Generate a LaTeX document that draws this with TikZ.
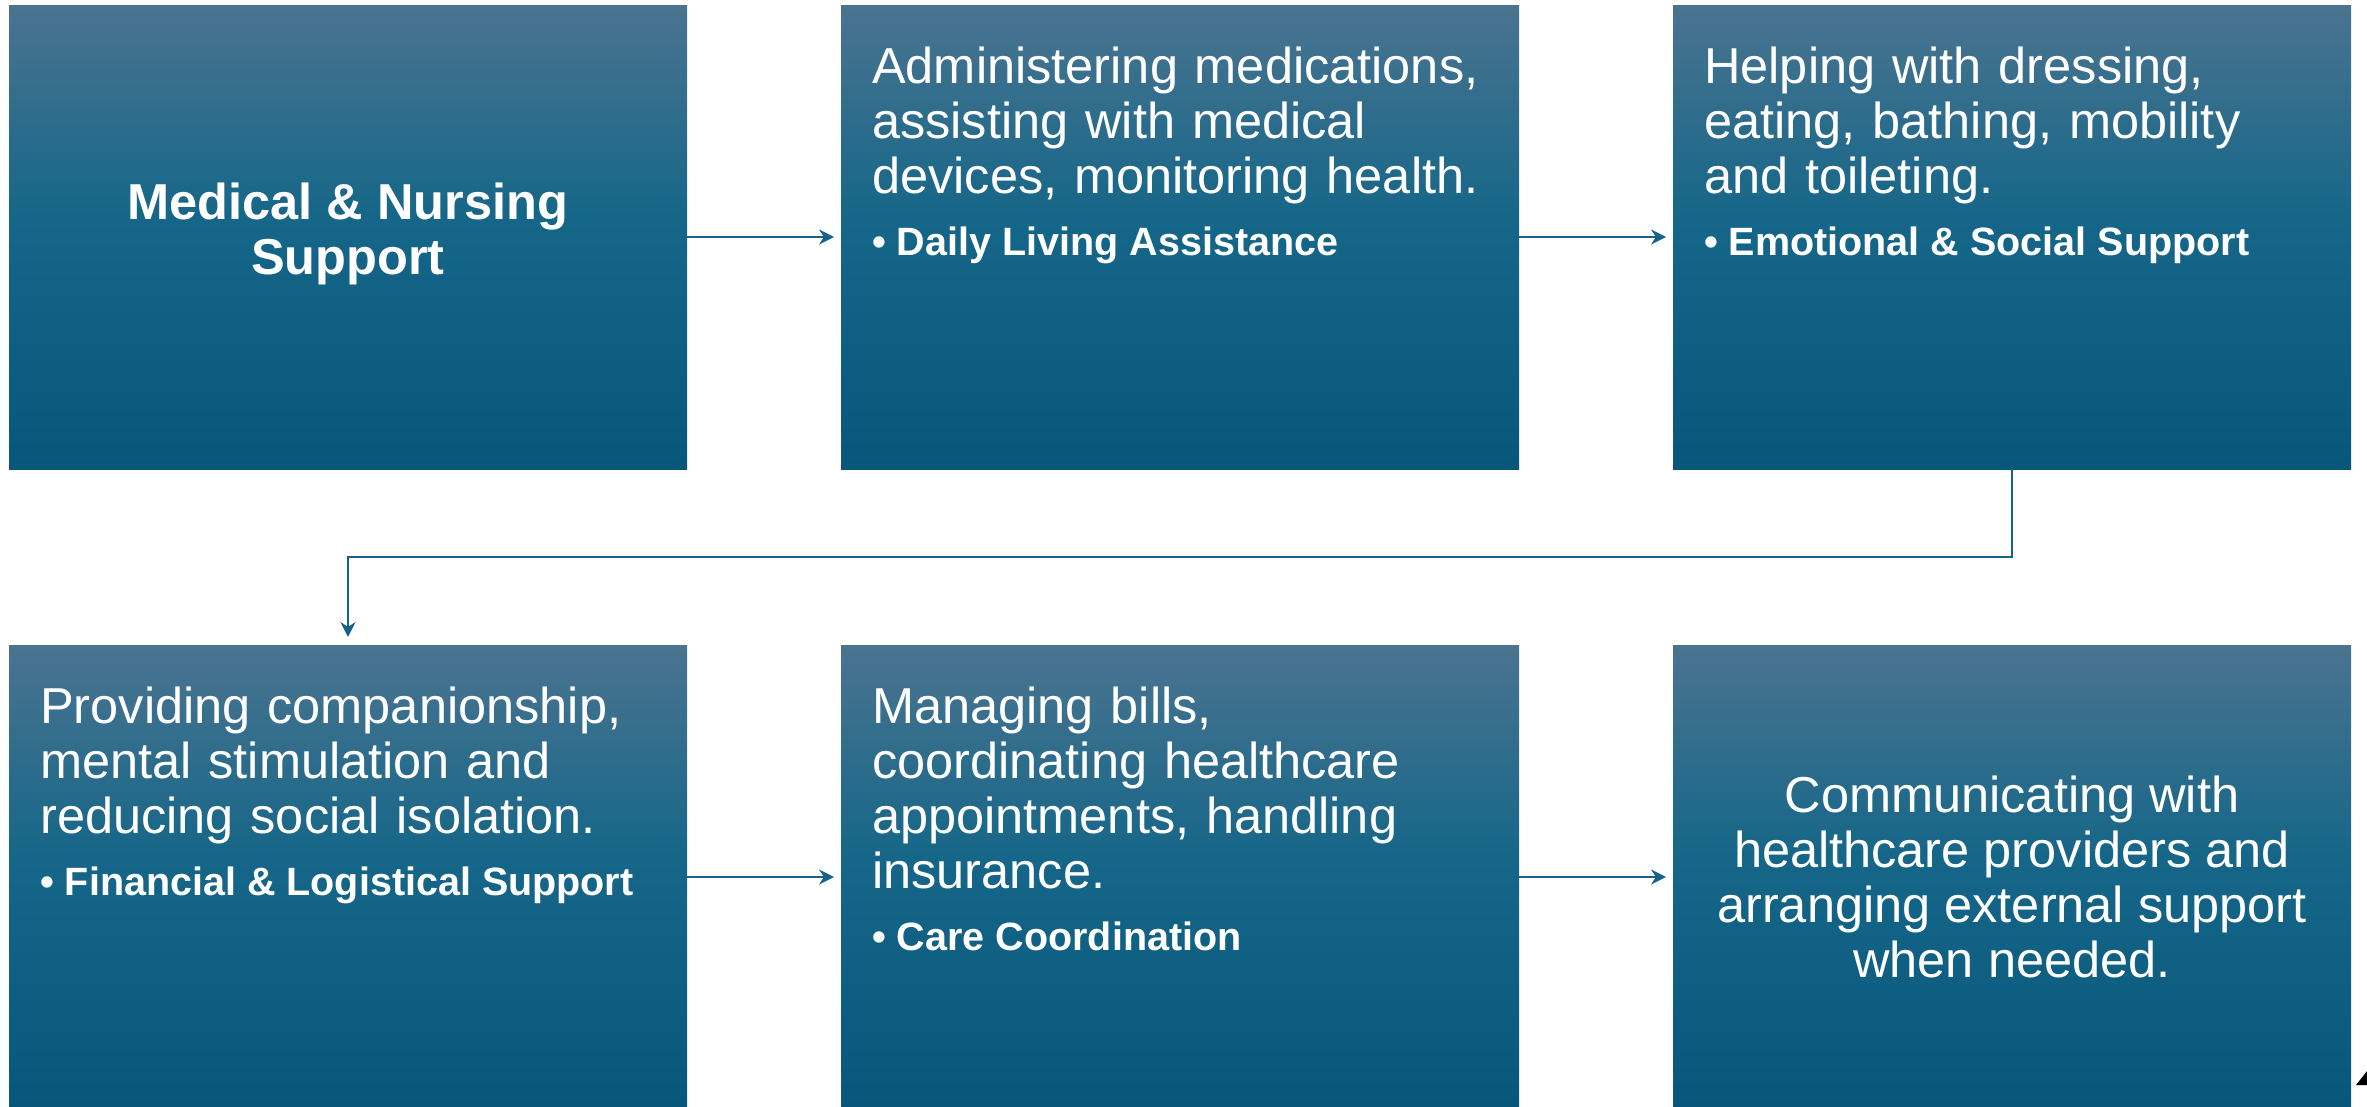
\documentclass[tikz,border=0pt]{standalone}
\usepackage{fontspec}
\setmainfont{Liberation Sans}
\usetikzlibrary{calc,arrows.meta}

\definecolor{shadetop}{HTML}{4A7490}
\definecolor{shademid}{HTML}{156688}
\definecolor{shadebot}{HTML}{06577A}
\definecolor{linkblue}{HTML}{16618A}

% top-to-bottom fade used by every card (the path is fitted to 25bp..75bp)
\pgfdeclareverticalshading{tealfade}{100bp}{%
  color(0bp)=(shadebot); color(25bp)=(shadebot); color(52bp)=(shademid);
  color(75bp)=(shadetop); color(100bp)=(shadetop)}

\begin{document}
\begin{tikzpicture}[x=1pt,y=-1pt,
  card/.style={draw=none, shading=tealfade, minimum width=678pt,
    minimum height=464pt, inner sep=0pt, outer sep=0pt, anchor=north west},
  body/.style={anchor=north west, inner sep=0pt, text=white, align=left,
    text width=650pt, font=\fontsize{50.5}{55}\selectfont},
  centred/.style={inner sep=0pt, text=white, align=center,
    font=\fontsize{50.5}{55}\selectfont},
  link/.style={draw=linkblue, line width=2.5pt,
    -{Stealth[length=15pt,width=15pt,inset=5pt]}, shorten >=7pt},
]
\useasboundingbox (0,0) rectangle (2367,1106);

% cards
\node[card] (b1) at (9,5) {};
\node[card] (b2) at (841,5) {};
\node[card] (b3) at (1673,5) {};
\node[card] (b4) at (9,645) {};
\node[card] (b5) at (841,645) {};
\node[card] (b6) at (1673,645) {};

% bold sub-heading line set below a card's body text
\newcommand{\bulletline}[1]{\par{\fontsize{39.5}{62}\selectfont\bfseries
  \spaceskip=0pt \xspaceskip=0pt • #1\par}}

% card texts
\node[centred, font=\fontsize{50.5}{55}\selectfont\bfseries] (t1)
  at ($(b1.center)+(0,-3)$) {Medical \& Nursing\\Support};
\node[body] (t2) at ($(b2.north west)+(31,42)$)
  {Administering medications,\\assisting with medical\\devices, monitoring health.%
   \bulletline{Daily Living Assistance}};
\node[body] (t3) at ($(b3.north west)+(31,42)$)
  {Helping with dressing,\\eating, bathing, mobility\\and toileting.%
   \bulletline{Emotional \& Social Support}};
\node[body] (t4) at ($(b4.north west)+(31,42)$)
  {Providing companionship,\\mental stimulation and\\reducing social isolation.%
   \bulletline{Financial \& Logistical Support}};
\node[body] (t5) at ($(b5.north west)+(31,42)$)
  {Managing bills,\\coordinating healthcare\\appointments, handling\\insurance.%
   \bulletline{Care Coordination}};
\node[centred] (t6) at (b6.center)
  {Communicating with\\healthcare providers and\\arranging external support\\when needed.};

% connectors
\draw[link] (b1.east) -- (b2.west);
\draw[link] (b2.east) -- (b3.west);
\coordinate (turn) at ($(b3.south)+(0,88)$);
\draw[link, shorten >=8pt] (b3.south) -- (turn) -| (b4.north);
\draw[link] (b4.east |- b5.center) -- (b5.west);
\draw[link] (b5.east) -- (b6.west);

% small corner mark
\fill[black] (2356,1085) -- (2367,1085) -- (2367,1071) -- cycle;
\end{tikzpicture}
\end{document}
